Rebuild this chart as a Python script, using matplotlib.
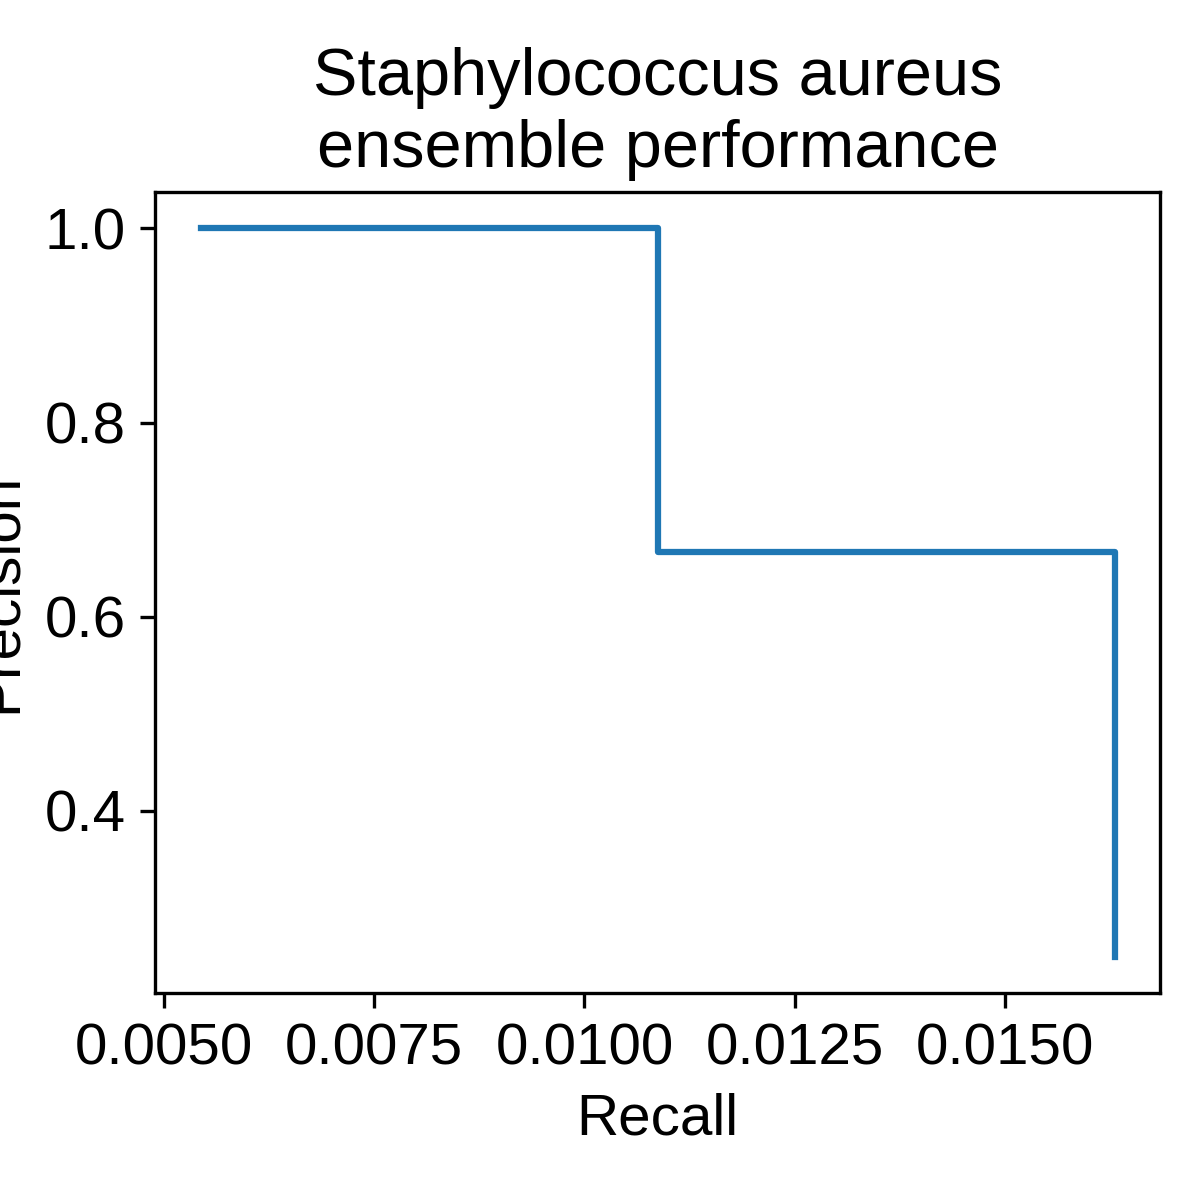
import matplotlib
matplotlib.use("Agg")
import matplotlib.pyplot as plt

# PR curve points (recall, precision), drawn as steps-post
recall = [1 / 184, 2 / 184, 3 / 184]
precision = [1.0, 2 / 3, 0.25]

plt.rcParams['font.family'] = ['Liberation Sans', 'DejaVu Sans']
plt.rcParams['font.size'] = 14

fig = plt.figure(figsize=(4, 4), dpi=300)
ax = fig.add_axes([0.129, 0.1725, 0.838, 0.6675])

ax.plot(recall, precision, drawstyle='steps-post', color='tab:blue', linewidth=1.5)

ax.set_title("Staphylococcus aureus\nensemble performance", fontsize=16)
ax.set_xlabel("Recall")
ax.set_ylabel("Precision")
ax.set_xticks([0.005, 0.0075, 0.01, 0.0125, 0.015])
ax.set_xticklabels(["0.0050", "0.0075", "0.0100", "0.0125", "0.0150"])
ax.set_yticks([0.4, 0.6, 0.8, 1.0])

fig.savefig("out.png", dpi=300)
